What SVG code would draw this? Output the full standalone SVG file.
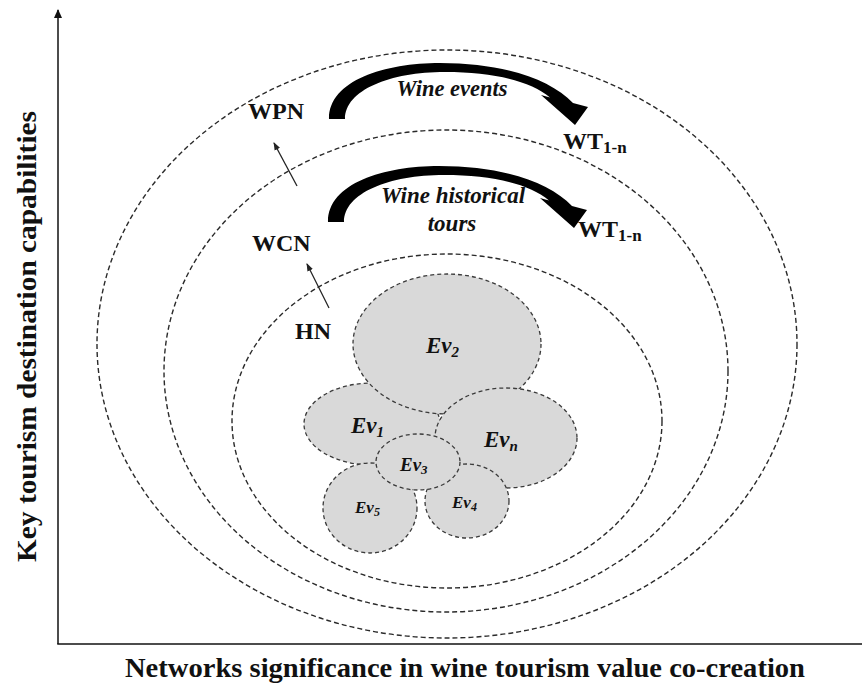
<svg xmlns="http://www.w3.org/2000/svg" width="862" height="686" viewBox="0 0 862 686">
<style>
.ring{fill:none;stroke:#2a2a2a;stroke-width:1.4;stroke-dasharray:5 3}
.ev{fill:#d9d9d9;stroke:#3a3a3a;stroke-width:1.3;stroke-dasharray:4 3}
.lbl{font-family:"Liberation Serif","Times New Roman",serif;font-weight:bold;fill:#111}
.it{font-family:"Liberation Serif","Times New Roman",serif;font-weight:bold;font-style:italic;fill:#111}
.ax{fill:none;stroke:#111;stroke-width:1.5}
.thin{fill:none;stroke:#222;stroke-width:1.3}
.curve{fill:#000}
</style>
<defs>
<marker id="ah" markerWidth="10" markerHeight="10" refX="8" refY="5" orient="auto" markerUnits="userSpaceOnUse">
<path d="M0,1 L9,5 L0,9 Z" fill="#111"/>
</marker>
<marker id="sah" markerWidth="8" markerHeight="8" refX="7" refY="4" orient="auto" markerUnits="userSpaceOnUse">
<path d="M0,1 L8,4 L0,7 Z" fill="#222"/>
</marker>
<path id="curvedArrow" d="M329 119 C329 80 385 63 440 63 C503 63 550 79 573 103 L588 107 L575 125 L541 95 L550 97.5 C531 81 493 72 445 72 C390 72 345 90 345 119 Z"/>
</defs>

<g id="axes">
<line class="ax" x1="58" y1="644" x2="58" y2="10" marker-end="url(#ah)"/>
<line class="ax" x1="57.25" y1="644" x2="862" y2="644"/>
</g>

<g id="rings">
<ellipse id="outer-ring" class="ring" cx="447" cy="344" rx="350" ry="294"/>
<ellipse id="middle-ring" class="ring" cx="446" cy="371" rx="282" ry="241"/>
<ellipse id="inner-ring" class="ring" cx="447" cy="421" rx="215" ry="167"/>
</g>

<g id="events">
<g id="ev1"><ellipse class="ev" cx="372" cy="424" rx="68" ry="41"/></g>
<g id="ev2"><ellipse class="ev" cx="447" cy="344" rx="94" ry="70"/></g>
<g id="evn"><ellipse class="ev" cx="506" cy="438" rx="71" ry="50"/></g>
<g id="ev4"><ellipse class="ev" cx="467" cy="501" rx="42" ry="37"/></g>
<g id="ev5"><ellipse class="ev" cx="370" cy="508" rx="47" ry="45"/></g>
<g id="ev3"><ellipse class="ev" cx="418" cy="462" rx="42" ry="28"/></g>
<text class="it" x="426" y="353" font-size="23">Ev<tspan font-size="15" dy="4">2</tspan></text>
<text class="it" x="351" y="433" font-size="23">Ev<tspan font-size="15" dy="4">1</tspan></text>
<text class="it" x="484" y="447" font-size="23">Ev<tspan font-size="15" dy="4">n</tspan></text>
<text class="it" x="400" y="471" font-size="19">Ev<tspan font-size="13" dy="3">3</tspan></text>
<text class="it" x="355" y="513" font-size="17">Ev<tspan font-size="12" dy="3">5</tspan></text>
<text class="it" x="452" y="508" font-size="17">Ev<tspan font-size="12" dy="3">4</tspan></text>
</g>

<g id="connectors">
<use href="#curvedArrow" class="curve"/>
<use href="#curvedArrow" class="curve" transform="translate(-1,103)"/>
<line class="thin" x1="297" y1="186" x2="274" y2="143" marker-end="url(#sah)"/>
<line class="thin" x1="329" y1="308" x2="307" y2="264" marker-end="url(#sah)"/>
</g>

<g id="node-wpn"><text class="lbl" x="248" y="119" font-size="24">WPN</text></g>
<g id="node-wcn"><text class="lbl" x="252" y="251" font-size="24">WCN</text></g>
<g id="node-hn"><text class="lbl" x="295" y="339" font-size="24">HN</text></g>
<g id="node-wt-upper"><text class="lbl" x="563" y="149" font-size="24">WT<tspan font-size="17" dy="4">1-n</tspan></text></g>
<g id="node-wt-lower"><text class="lbl" x="578" y="237" font-size="24">WT<tspan font-size="17" dy="4">1-n</tspan></text></g>

<g id="arrow-labels">
<text class="it" x="452" y="96" font-size="22.5" text-anchor="middle">Wine events</text>
<text class="it" x="453" y="203" font-size="23" text-anchor="middle">Wine historical</text>
<text class="it" x="452" y="231" font-size="23" text-anchor="middle">tours</text>
</g>

<g id="axis-labels">
<text class="lbl" x="125" y="677" font-size="28" textLength="680" lengthAdjust="spacingAndGlyphs">Networks significance in wine tourism value co-creation</text>
<text class="lbl" font-size="28" transform="translate(36,562) rotate(-90)" textLength="451" lengthAdjust="spacingAndGlyphs">Key tourism destination capabilities</text>
</g>
</svg>
